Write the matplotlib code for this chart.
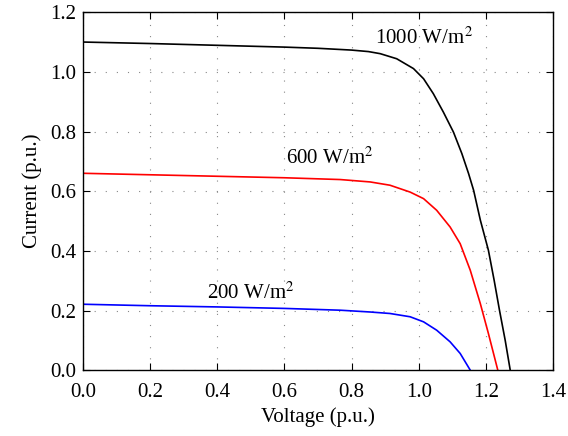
import matplotlib
matplotlib.use("Agg")
import matplotlib.pyplot as plt

plt.rcParams["font.family"] = ["Liberation Serif", "DejaVu Serif"]
plt.rcParams["mathtext.fontset"] = "stix"

# I-V curves (voltage, current in p.u.)
v_1000 = [0.0, 0.2, 0.4, 0.6, 0.7, 0.8, 0.85, 0.885, 0.934, 0.984, 1.014, 1.043,
          1.073, 1.103, 1.128, 1.148, 1.163, 1.183, 1.207, 1.224, 1.240, 1.257, 1.272]
i_1000 = [1.100, 1.095, 1.089, 1.083, 1.079, 1.073, 1.068, 1.061, 1.044, 1.011, 0.977, 0.927,
          0.865, 0.798, 0.726, 0.659, 0.603, 0.503, 0.402, 0.302, 0.201, 0.100, 0.0]

v_600 = [0.0, 0.2, 0.4, 0.6, 0.766, 0.855, 0.914, 0.974, 1.014, 1.053, 1.093,
         1.123, 1.153, 1.183, 1.207, 1.235]
i_600 = [0.660, 0.655, 0.650, 0.645, 0.639, 0.631, 0.620, 0.597, 0.575, 0.536, 0.480,
         0.424, 0.335, 0.223, 0.123, 0.0]

v_200 = [0.0, 0.2, 0.4, 0.6, 0.766, 0.855, 0.914, 0.974, 1.014, 1.053, 1.093, 1.123, 1.153]
i_200 = [0.221, 0.216, 0.212, 0.207, 0.201, 0.195, 0.190, 0.179, 0.162, 0.134, 0.095, 0.056, 0.0]

x_ticks = [0.0, 0.2, 0.4, 0.6, 0.8, 1.0, 1.2, 1.4]
y_ticks = [0.0, 0.2, 0.4, 0.6, 0.8, 1.0, 1.2]

fig, ax = plt.subplots(figsize=(5.68, 4.36), dpi=100)
fig.subplots_adjust(left=0.146, right=0.974, top=0.972, bottom=0.151)

ax.plot(v_1000, i_1000, color="black", lw=1.2)
ax.plot(v_600, i_600, color="red", lw=1.2)
ax.plot(v_200, i_200, color="blue", lw=1.2)

# curve labels
ax.text(0.87, 1.112, "1000 W/m$^2$", fontsize=15, va="center")
ax.text(0.605, 0.71, "600 W/m$^2$", fontsize=15, va="center")
ax.text(0.37, 0.26, "200 W/m$^2$", fontsize=15, va="center")

ax.set_xlim(0, 1.4)
ax.set_ylim(0, 1.2)
ax.set_xticks(x_ticks)
ax.set_yticks(y_ticks)
ax.set_xticklabels([f"{t:.1f}" for t in x_ticks])
ax.set_yticklabels([f"{t:.1f}" for t in y_ticks])
ax.tick_params(direction="in", top=True, right=True, length=5, labelsize=15)
ax.tick_params(axis="x", pad=9)
ax.tick_params(axis="y", pad=5)

ax.set_xlabel("Voltage (p.u.)", fontsize=15, labelpad=4)
ax.set_ylabel("Current (p.u.)", fontsize=15, labelpad=6)

ax.grid(True, linestyle=(0, (1, 9)), color="#888888", lw=0.8)
for s in ax.spines.values():
    s.set_linewidth(1.0)

plt.savefig("out.png")
